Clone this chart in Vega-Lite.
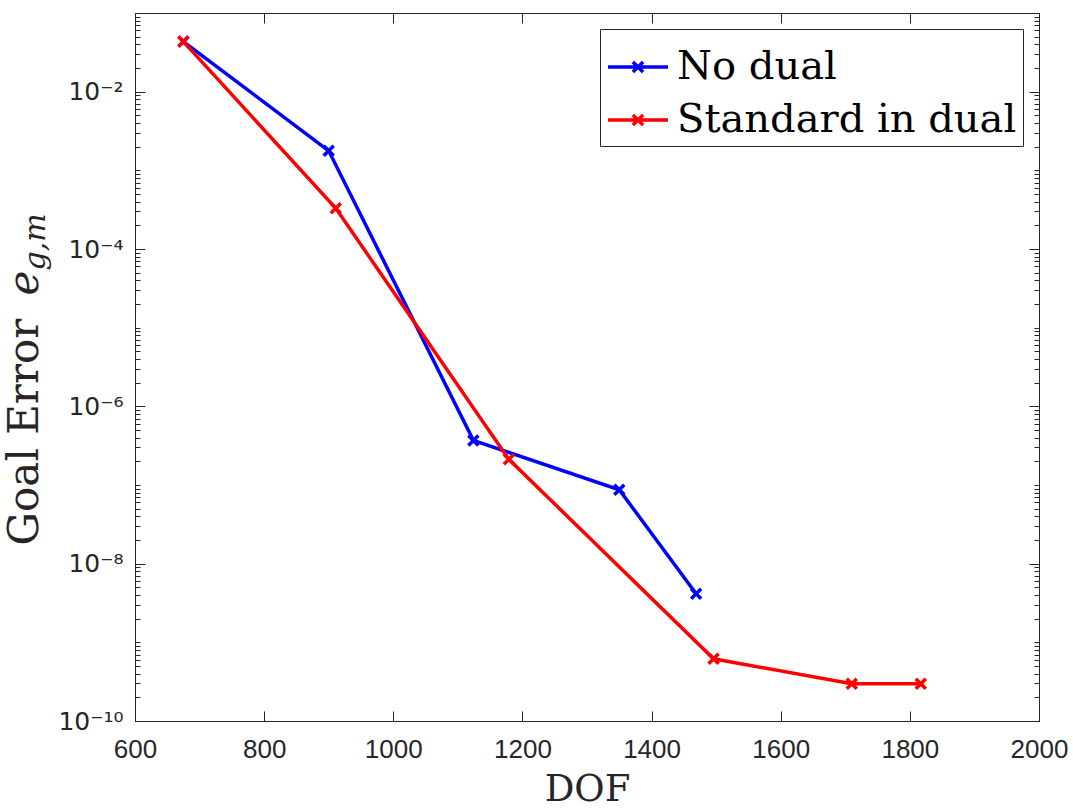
{
  "$schema": "https://vega.github.io/schema/vega-lite/v6.json",
  "width": 904,
  "height": 708,
  "autosize": {"type": "none"},
  "padding": {"left": 135, "top": 13, "right": 34, "bottom": 88},
  "background": "white",
  "config": {
    "view": {"stroke": "#262626", "strokeWidth": 1},
    "axis": {"domainColor": "#262626", "tickColor": "#262626", "labelColor": "#262626", "titleColor": "#262626", "grid": false, "labelFont": "Liberation Sans", "labelFontSize": 25, "titleFont": "DejaVu Serif", "titleFontWeight": "normal"}
  },
  "data": {
    "values": [
      {"dof": 675, "err": 0.0433, "series": "No dual"},
      {"dof": 900, "err": 0.00177, "series": "No dual"},
      {"dof": 1124, "err": 3.69e-7, "series": "No dual"},
      {"dof": 1350, "err": 8.7e-8, "series": "No dual"},
      {"dof": 1469, "err": 4.15e-9, "series": "No dual"},
      {"dof": 675, "err": 0.0433, "series": "Standard in dual"},
      {"dof": 911, "err": 0.000329, "series": "Standard in dual"},
      {"dof": 1179, "err": 2.12e-7, "series": "Standard in dual"},
      {"dof": 1496, "err": 6.18e-10, "series": "Standard in dual"},
      {"dof": 1710, "err": 2.97e-10, "series": "Standard in dual"},
      {"dof": 1817, "err": 2.97e-10, "series": "Standard in dual"}
    ]
  },
  "layer": [
    {
      "mark": {"type": "point", "opacity": 0},
      "encoding": {
        "x": {"field": "dof", "type": "quantitative", "scale": {"domain": [600, 2000], "nice": false, "zero": false},
          "axis": {"orient": "top", "labels": false, "title": null, "values": [600, 800, 1000, 1200, 1400, 1600, 1800, 2000], "tickSize": -10, "tickColor": "#262626", "domainColor": "#262626"}},
        "y": {"field": "err", "type": "quantitative", "scale": {"type": "log", "domain": [1e-10, 0.1], "nice": false},
          "axis": {"orient": "right", "labels": false, "title": null, "tickColor": "#262626", "domainColor": "#262626",
            "values": [1e-10, 1e-8, 1e-6, 1e-4, 1e-2], "tickSize": -10}}
      }
    },
    {
      "mark": {"type": "point", "opacity": 0},
      "encoding": {
        "x": {"field": "dof", "type": "quantitative", "scale": {"domain": [600, 2000], "nice": false, "zero": false}, "axis": null},
        "y": {"field": "err", "type": "quantitative", "scale": {"type": "log", "domain": [1e-10, 0.1], "nice": false},
          "axis": {"orient": "right", "labels": false, "title": null, "domain": false, "tickColor": "#262626", "tickSize": -5,
            "values": [2e-10,3e-10,4e-10,5e-10,6e-10,7e-10,8e-10,9e-10,1e-9,2e-9,3e-9,4e-9,5e-9,6e-9,7e-9,8e-9,9e-9,2e-8,3e-8,4e-8,5e-8,6e-8,7e-8,8e-8,9e-8,1e-7,2e-7,3e-7,4e-7,5e-7,6e-7,7e-7,8e-7,9e-7,2e-6,3e-6,4e-6,5e-6,6e-6,7e-6,8e-6,9e-6,1e-5,2e-5,3e-5,4e-5,5e-5,6e-5,7e-5,8e-5,9e-5,2e-4,3e-4,4e-4,5e-4,6e-4,7e-4,8e-4,9e-4,1e-3,2e-3,3e-3,4e-3,5e-3,6e-3,7e-3,8e-3,9e-3,2e-2,3e-2,4e-2,5e-2,6e-2,7e-2,8e-2,9e-2]}}
      }
    },
    {
      "mark": {"type": "point", "opacity": 0},
      "encoding": {
        "x": {"field": "dof", "type": "quantitative", "scale": {"domain": [600, 2000], "nice": false, "zero": false}, "axis": null},
        "y": {"field": "err", "type": "quantitative", "scale": {"type": "log", "domain": [1e-10, 0.1], "nice": false},
          "axis": {"orient": "left", "labels": false, "title": null, "domain": false, "tickColor": "#262626", "tickSize": -5,
            "values": [2e-10,3e-10,4e-10,5e-10,6e-10,7e-10,8e-10,9e-10,1e-9,2e-9,3e-9,4e-9,5e-9,6e-9,7e-9,8e-9,9e-9,2e-8,3e-8,4e-8,5e-8,6e-8,7e-8,8e-8,9e-8,1e-7,2e-7,3e-7,4e-7,5e-7,6e-7,7e-7,8e-7,9e-7,2e-6,3e-6,4e-6,5e-6,6e-6,7e-6,8e-6,9e-6,1e-5,2e-5,3e-5,4e-5,5e-5,6e-5,7e-5,8e-5,9e-5,2e-4,3e-4,4e-4,5e-4,6e-4,7e-4,8e-4,9e-4,1e-3,2e-3,3e-3,4e-3,5e-3,6e-3,7e-3,8e-3,9e-3,2e-2,3e-2,4e-2,5e-2,6e-2,7e-2,8e-2,9e-2]}}
      }
    },
    {
      "mark": {"type": "point", "opacity": 0},
      "encoding": {
        "x": {"field": "dof", "type": "quantitative", "scale": {"domain": [600, 2000], "nice": false, "zero": false}, "axis": null},
        "y": {"field": "err", "type": "quantitative", "scale": {"type": "log", "domain": [1e-10, 0.1], "nice": false},
          "axis": {"orient": "left", "labels": false, "ticks": false, "domain": false, "title": "e", "titleFont": "DejaVu Serif", "titleColor": "#262626", "titleFontStyle": "italic", "titleFontWeight": "normal", "titleFontSize": 42, "titleAngle": 270, "titleAlign": "left", "titleBaseline": "alphabetic", "titleX": -98, "titleY": 282}}
      }
    },
    {
      "mark": {"type": "point", "opacity": 0},
      "encoding": {
        "x": {"field": "dof", "type": "quantitative", "scale": {"domain": [600, 2000], "nice": false, "zero": false}, "axis": null},
        "y": {"field": "err", "type": "quantitative", "scale": {"type": "log", "domain": [1e-10, 0.1], "nice": false},
          "axis": {"orient": "left", "labels": false, "ticks": false, "domain": false, "title": "g,m", "titleFont": "DejaVu Serif", "titleColor": "#262626", "titleFontStyle": "italic", "titleFontWeight": "normal", "titleFontSize": 30, "titleAngle": 270, "titleAlign": "left", "titleBaseline": "alphabetic", "titleX": -91, "titleY": 257}}
      }
    },
    {
      "mark": {"type": "line", "strokeWidth": 3.5, "point": {"shape": "M-1,-1L1,1M-1,1L1,-1", "filled": false, "size": 100, "strokeWidth": 3.5}},
      "encoding": {
        "x": {"field": "dof", "type": "quantitative", "scale": {"domain": [600, 2000], "nice": false, "zero": false},
          "axis": {"orient": "bottom", "title": "DOF", "titleFont": "DejaVu Serif", "titleFontWeight": "normal", "titleColor": "#262626", "titleFontSize": 37, "titleY": 79, "titleBaseline": "alphabetic", "values": [600, 800, 1000, 1200, 1400, 1600, 1800, 2000], "format": "d", "tickSize": -10, "tickColor": "#262626", "domainColor": "#262626", "labelFont": "Liberation Sans", "labelFontSize": 26, "labelColor": "#262626", "labelPadding": 25, "labelBaseline": "top", "labelFlush": false}},
        "y": {"field": "err", "type": "quantitative", "scale": {"type": "log", "domain": [1e-10, 0.1], "nice": false},
          "axis": {"orient": "left", "title": "Goal Error", "titleFont": "DejaVu Serif", "titleFontWeight": "normal", "titleColor": "#262626", "titleFontSize": 42, "titleAngle": 270, "titleAlign": "left", "titleBaseline": "alphabetic", "titleX": -98, "titleY": 532,
            "values": [1e-10, 1e-8, 1e-6, 1e-4, 1e-2],
            "tickSize": -10, "tickColor": "#262626", "domainColor": "#262626",
            "labelFont": "DejaVu Sans", "labelFontSize": 25, "labelColor": "#262626",
            "labelOverlap": false, "labelFlush": false, "labelPadding": 22, "labelBaseline": "middle",
            "labelExpr": "datum.value == 1e-2 ? '10⁻²' : datum.value == 1e-4 ? '10⁻⁴' : datum.value == 1e-6 ? '10⁻⁶' : datum.value == 1e-8 ? '10⁻⁸' : datum.value == 1e-10 ? '10⁻¹⁰' : ''"}},
        "color": {"field": "series", "type": "nominal",
          "scale": {"domain": ["No dual", "Standard in dual"], "range": ["#0000ff", "#ff0000"]},
          "legend": {"orient": "top-right", "offset": 16, "title": null, "fillColor": "white", "strokeColor": "#262626", "padding": 6,
            "labelFont": "DejaVu Serif", "labelFontSize": 40, "labelColor": "black", "labelOffset": 7, "labelLimit": 600, "rowPadding": 1,
            "symbolType": "M-1,0H1M-0.17,-0.17L0.17,0.17M-0.17,0.17L0.17,-0.17", "symbolSize": 3600, "symbolStrokeWidth": 3.5, "symbolFillColor": "transparent"}}
      }
    }
  ],
  "resolve": {"axis": {"x": "independent", "y": "independent"}}
}
